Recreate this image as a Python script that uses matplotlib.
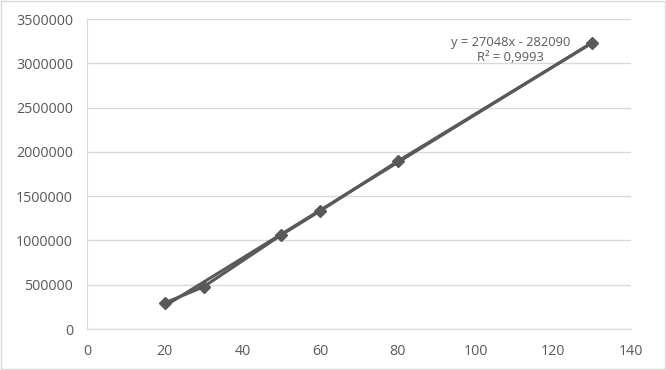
import matplotlib
matplotlib.use("Agg")
import matplotlib.pyplot as plt
import numpy as np
from matplotlib.patches import Rectangle

x_vals = [20, 30, 50, 60, 80, 130]
y_vals = [294000, 476000, 1062000, 1333000, 1895000, 3229000]
slope = 27048
intercept = -282090
eq_text = "y = 27048x - 282090"
r2_text = "R² = 0,9993"
x_ticks = [0, 20, 40, 60, 80, 100, 120, 140]
y_ticks = [0, 500000, 1000000, 1500000, 2000000, 2500000, 3000000, 3500000]

plt.rcParams['font.family'] = ['Open Sans', 'DejaVu Sans']
fig = plt.figure(figsize=(6.66, 3.70), dpi=100)
fig.add_artist(Rectangle((0.0015, 0.003), 0.997, 0.994, transform=fig.transFigure,
                         fill=False, edgecolor='#d9d9d9', lw=1))
ax = fig.add_axes([0.1306, 0.1108, 0.8168, 0.8378])
col = '#595959'
ax.set_xlim(0, 140)
ax.set_ylim(0, 3500000)
ax.set_xticks(x_ticks)
ax.set_yticks(y_ticks)
ax.set_xticklabels([str(t) for t in x_ticks])
ax.set_yticklabels([str(t) for t in y_ticks])
ax.grid(axis='y', color='#d9d9d9', lw=1)
ax.set_axisbelow(True)
for s in ['top', 'right']:
    ax.spines[s].set_visible(False)
ax.spines['left'].set_color('#d9d9d9')
ax.spines['bottom'].set_color('#d9d9d9')
ax.tick_params(length=0, labelsize=10.3, colors=col)
ax.tick_params(axis='y', pad=10)
ax.tick_params(axis='x', pad=11)

tx = np.array([x_vals[0], x_vals[-1]])
ax.plot(tx, slope * tx + intercept, color=col, lw=2.2, zorder=2)
ax.plot(x_vals, y_vals, color=col, lw=2.2, marker='D', markersize=6.5, zorder=3)

ax.text(109, 3230000, eq_text, ha='center', va='center', fontsize=9.3, color=col)
ax.text(109, 3065000, r2_text, ha='center', va='center', fontsize=9.3, color=col)

fig.savefig('out.png', dpi=100)
